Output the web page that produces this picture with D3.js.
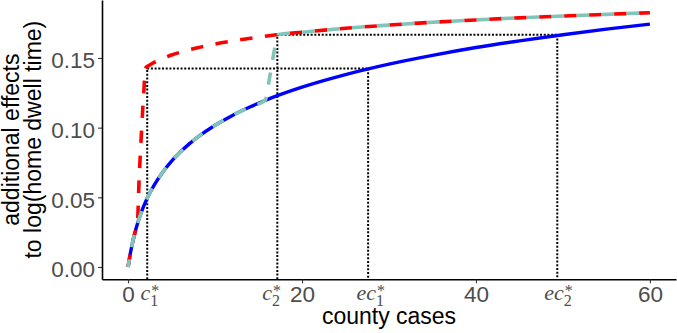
<!DOCTYPE html>
<html>
<head>
<meta charset="utf-8">
<script src="https://cdn.jsdelivr.net/npm/d3@7"></script>
<style>
  html, body { margin: 0; padding: 0; background: #fff; }
  svg { display: block; }
</style>
</head>
<body>
<svg id="chart" width="677" height="333"></svg>
<script>
// ---------------- data ----------------
const blueX = [0, 0.25, 0.5, 0.75, 1, 1.5, 2, 2.5, 3, 4, 5, 6, 7, 8, 10, 12, 14, 15.75, 17, 20, 25, 30, 35, 40, 45, 50, 55, 60];
const blueY = [0, 0.0095, 0.0172, 0.0237, 0.0294, 0.0389, 0.0466, 0.0531, 0.0588, 0.0682, 0.0760, 0.0825, 0.0882, 0.0932, 0.1017, 0.1088, 0.1148, 0.1195, 0.1226, 0.1291, 0.1381, 0.1456, 0.1519, 0.1575, 0.1623, 0.1667, 0.1707, 0.1743];

const redX = [0, 0.25, 0.5, 0.75, 1.0, 1.1, 1.25, 1.4, 1.55, 1.7, 1.85, 1.95, 2.5, 3, 4, 5, 6, 8, 10, 12, 15, 17, 20, 25, 30, 35, 40, 45, 50, 55, 60];
const redY = [0, 0.0095, 0.0172, 0.0237, 0.0294, 0.034, 0.060, 0.080, 0.098, 0.115, 0.130, 0.1425, 0.1450, 0.1468, 0.1497, 0.1521, 0.1541, 0.1574, 0.1600, 0.1622, 0.1649, 0.1666, 0.1685, 0.1713, 0.1736, 0.1756, 0.1773, 0.1788, 0.1801, 0.1813, 0.1825];

const tealX = [0, 0.25, 0.5, 0.75, 1, 1.5, 2, 2.5, 3, 4, 5, 6, 7, 8, 10, 12, 14, 15.75, 16.3, 16.9, 17.3, 20, 25, 30, 35, 40, 45, 50, 55, 60];
const tealY = [0, 0.0095, 0.0172, 0.0237, 0.0294, 0.0389, 0.0466, 0.0531, 0.0588, 0.0682, 0.0760, 0.0825, 0.0882, 0.0932, 0.1017, 0.1088, 0.1148, 0.1195, 0.137, 0.158, 0.1668, 0.1685, 0.1713, 0.1736, 0.1756, 0.1773, 0.1788, 0.1801, 0.1813, 0.1825];

// thresholds (dotted guides)
const thresholdX = [2.2, 17.16];    // c1*, c2*
const equivX = [27.6, 49.35];       // ec1*, ec2*
const thresholdY = [0.1424, 0.1666];

const xTicks = [0, 20, 40, 60];
const xTickLabels = ["0", "20", "40", "60"];
const yTicks = [0, 0.05, 0.10, 0.15];
const yTickLabels = ["0.00", "0.05", "0.10", "0.15"];

const markPos = [2.5, 16.5, 27.9, 49.5];
const markBase = ["c", "c", "ec", "ec"];
const markSub = ["1", "2", "1", "2"];

const xTitle = "county cases";
const yTitle = ["additional effects", "to log(home dwell time)"];

// ---------------- layout ----------------
const svg = d3.select("#chart");
const padL = 102, padR = 676, padT = 0, padB = 279.3;
const x = d3.scaleLinear().domain([-3, 63]).range([padL, padR]);
const y = d3.scaleLinear().domain([-0.00883, 0.1916]).range([padB, padT]);

const sansFont = "'Liberation Sans', Arial, Helvetica, sans-serif";
const serifFont = "'Liberation Serif', 'Times New Roman', serif";

const line = d3.line().x(d => x(d[0])).y(d => y(d[1])).curve(d3.curveMonotoneX);
const zip = (a, b) => a.map((v, i) => [v, b[i]]);

const blue = zip(blueX, blueY);
const red = zip(redX, redY);
const teal = zip(tealX, tealY);

const dashOn = 12.5, dashOff = 12.5, period = dashOn + dashOff;

// dotted guide lines
const dotted = svg.append("g")
  .attr("fill", "none").attr("stroke", "#000")
  .attr("stroke-width", 2).attr("stroke-dasharray", "2 1.7");
thresholdX.forEach((cx, i) => {
  const ex = equivX[i], hy = thresholdY[i];
  dotted.append("line").attr("x1", x(cx)).attr("x2", x(cx)).attr("y1", y.range()[0]).attr("y2", y(hy));
  dotted.append("line").attr("x1", x(cx)).attr("x2", x(ex)).attr("y1", y(hy)).attr("y2", y(hy));
  dotted.append("line").attr("x1", x(ex)).attr("x2", x(ex)).attr("y1", y(hy)).attr("y2", y.range()[0]);
});

// blue solid
svg.append("path").datum(blue)
  .attr("d", line).attr("fill", "none").attr("stroke", "#0000FF").attr("stroke-width", 3.4);

// red dashed
svg.append("path").datum(red)
  .attr("d", line).attr("fill", "none").attr("stroke", "#FF0000").attr("stroke-width", 3.6)
  .attr("stroke-dasharray", dashOn + " " + dashOff);

// compute phase so teal dashes fall into red gaps on the shared upper part
const tmp = svg.append("path").attr("fill", "none");
tmp.attr("d", line(red.filter(d => d[0] <= 20)));
const Lr = tmp.node().getTotalLength();
tmp.attr("d", line(teal.filter(d => d[0] <= 20)));
const Lt = tmp.node().getTotalLength();
tmp.remove();
const off = ((Lr - Lt + dashOn) % period + period) % period;

svg.append("path").datum(teal)
  .attr("d", line).attr("fill", "none").attr("stroke", "#80C5B8").attr("stroke-width", 3.6)
  .attr("stroke-dasharray", dashOn + " " + dashOff)
  .attr("stroke-dashoffset", off);

// ---------------- axes ----------------
const xAxis = svg.append("g").attr("transform", `translate(0,${padB})`)
  .call(d3.axisBottom(x).tickValues(xTicks).tickFormat((d, i) => xTickLabels[i]).tickSize(4).tickSizeOuter(0));
const yAxis = svg.append("g").attr("transform", `translate(${padL},0)`)
  .call(d3.axisLeft(y).tickValues(yTicks).tickFormat((d, i) => yTickLabels[i]).tickSize(4).tickSizeOuter(0));

[xAxis, yAxis].forEach(g => {
  g.select(".domain").attr("stroke", "#000").attr("stroke-width", 1.6);
  g.selectAll(".tick line").attr("stroke", "#333").attr("stroke-width", 1.1);
  g.selectAll(".tick text").attr("fill", "#4D4D4D")
    .style("font-family", sansFont).style("font-size", "22.5px");
});
xAxis.selectAll(".tick text").attr("y", 22.7).attr("dy", null);
yAxis.selectAll(".tick text").attr("x", -7).attr("dy", "0.44em");

// math labels c1*, c2*, ec1*, ec2*
markPos.forEach((p, i) => {
  const g = svg.append("g").attr("transform", `translate(${x(p)},0)`)
    .attr("fill", "#4D4D4D").style("font-family", serifFont);
  const base = g.append("text").text(markBase[i]).style("font-style", "italic").style("font-size", "22px").attr("y", 299.5);
  const sub = g.append("text").text(markSub[i]).style("font-size", "16px").attr("y", 305.5);
  const star = g.append("text").text("*").style("font-size", "16px").attr("y", 296);
  const wb = base.node().getComputedTextLength();
  const ws = sub.node().getComputedTextLength();
  const wst = star.node().getComputedTextLength();
  const total = wb + Math.max(ws, wst + 1);
  const s = -total / 2;
  base.attr("x", s);
  sub.attr("x", s + wb);
  star.attr("x", s + wb + 1);
});

// titles
svg.append("text").text(xTitle)
  .attr("x", (padL + padR) / 2).attr("y", 324)
  .attr("text-anchor", "middle").attr("fill", "#000")
  .style("font-family", sansFont).style("font-size", "23px");

const yt = svg.append("text")
  .attr("transform", `translate(0,${(padT + padB) / 2}) rotate(-90)`)
  .attr("text-anchor", "middle").attr("fill", "#000")
  .style("font-family", sansFont).style("font-size", "23px");
yt.append("tspan").attr("x", 0).attr("y", 18.5).text(yTitle[0]);
yt.append("tspan").attr("x", 0).attr("y", 40.5).text(yTitle[1]);
</script>
</body>
</html>
